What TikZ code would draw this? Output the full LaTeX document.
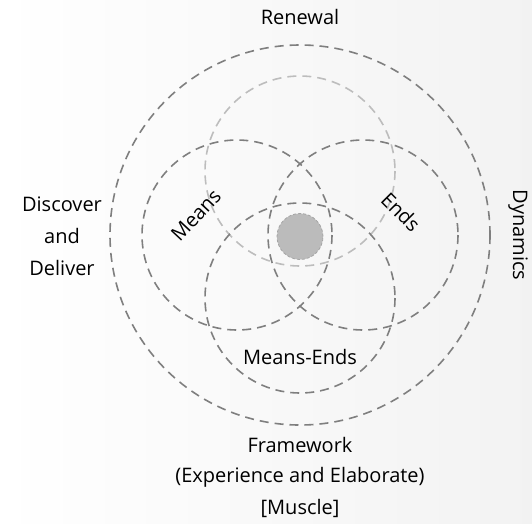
\documentclass[tikz,border=0pt]{standalone}
\usepackage{fontspec}
\setmainfont{Open Sans}
\usetikzlibrary{shadings}
\definecolor{ringdark}{HTML}{7F7F7F}
\definecolor{ringlight}{HTML}{BDBDBD}
\definecolor{corefill}{HTML}{BBBBBB}
\begin{document}
\begin{tikzpicture}[x=1pt,y=-1pt,
  ring/.style={draw=ringdark,line width=1.6pt,dash pattern=on 9pt off 6pt},
  lightring/.style={draw=ringlight,line width=1.6pt,dash pattern=on 9pt off 6pt},
  lbl/.style={font=\fontsize{20}{32}\selectfont,text=black,inner sep=0pt},
]
\useasboundingbox (0,0) rectangle (532,523);
\shade[left color=white,right color=black!5,shading angle=90] (0,0) rectangle (532,523);
% rings
\draw[ring] (300,235) circle (190);
\draw[lightring] (300,171) circle (95);
\draw[ring] (237,235) circle (95);
\draw[ring] (363,235) circle (95);
\draw[ring] (300,298) circle (95);
\node[circle,fill=corefill,draw=ringdark!70,dash pattern=on 3pt off 2pt,line width=0.8pt,minimum size=46pt,inner sep=0pt] (core) at (300,236.5) {};
% labels
\node[lbl] (renewal) at (300,17) {Renewal};
\node[lbl,align=center] (discover) at (62,236) {Discover\\and\\Deliver};
\node[lbl,rotate=-90] (dynamics) at (518,235) {Dynamics};
\node[lbl,rotate=47] (means) at (196,215) {Means};
\node[lbl,rotate=-45] (ends) at (401,212) {Ends};
\node[lbl] (meansends) at (300,357) {Means-Ends};
\node[lbl] (framework) at (300,445) {Framework};
\node[lbl] (experience) at (300,477) {(Experience and Elaborate)};
\node[lbl] (muscle) at (300,508) {[Muscle]};
\end{tikzpicture}
\end{document}
